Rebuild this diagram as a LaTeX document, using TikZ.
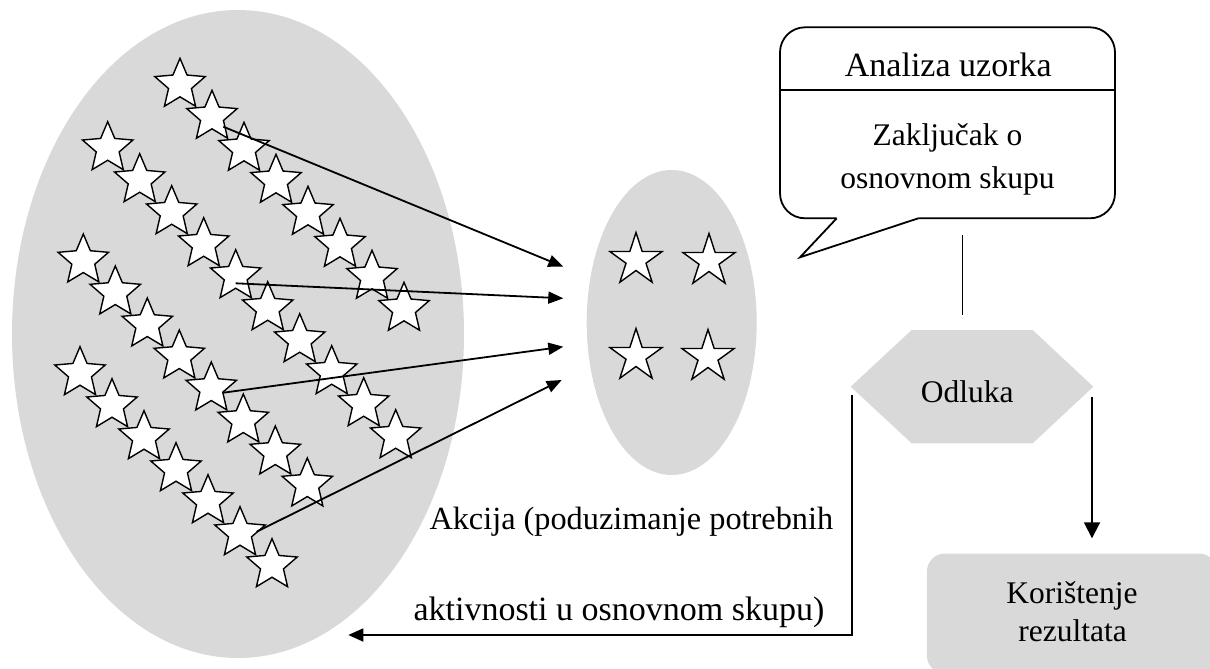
\documentclass[tikz,border=0pt]{standalone}
\usepackage{fontspec}
\setmainfont{Liberation Serif}
\usetikzlibrary{shapes.geometric,arrows.meta}
\definecolor{lg}{RGB}{217,217,217}
\begin{document}
\begin{tikzpicture}[x=1pt,y=-1pt,
  bstar/.style={star, star points=5, star point ratio=2.2, minimum size=53pt, inner sep=0pt, draw=black, fill=white, line width=1.4pt},
  sstar/.style={star, star points=5, star point ratio=2.618, minimum size=55pt, inner sep=0pt, draw=black, fill=white, line width=1.4pt},
  lbl/.style={font=\fontsize{31.5}{38}\selectfont, inner sep=0pt, anchor=base},
  conn/.style={line width=1.8pt},
  arr/.style={conn, -{Triangle[length=15pt,width=12pt]}},
  grayarea/.style={fill=lg, draw=none, inner sep=0pt}
]
\useasboundingbox (0,0) rectangle (1210,669);

% population ellipse
\node[grayarea, ellipse, minimum width=452pt, minimum height=648pt] (pop) at (238,334) {};
% sample ellipse
\node[grayarea, ellipse, minimum width=170pt, minimum height=305pt] (sample) at (671.7,322.5) {};

% stars in population
\foreach \i in {0,...,7} \node[bstar] (a\i) at ({180+32*\i},{84.8+32*\i}) {};
\foreach \i in {0,...,9} \node[bstar] (b\i) at ({107.7+32*\i},{148.2+32*\i}) {};
\foreach \i in {0,...,7} \node[bstar] (c\i) at ({83.3+32*\i},{260.5+32*\i}) {};
\foreach \i in {0,...,6} \node[bstar] (d\i) at ({80+32*\i},{373.2+32*\i}) {};

% stars in sample
\node[sstar] (s1) at (636,260) {};
\node[sstar] (s2) at (709,261) {};
\node[sstar] (s3) at (636,356) {};
\node[sstar] (s4) at (708,357) {};

% sampling arrows
\coordinate (f1) at (223.3,126.7);
\coordinate (f2) at (235.7,283.3);
\coordinate (f3) at (223.3,392.7);
\coordinate (f4) at (256.7,531.7);
\coordinate (t1) at (563.3,266.7);
\coordinate (t2) at (563.3,298.3);
\coordinate (t3) at (563.3,346.7);
\coordinate (t4) at (561.7,380);
\draw[arr] (f1) -- (t1);
\draw[arr] (f2) -- (t2);
\draw[arr] (f3) -- (t3);
\draw[arr] (f4) -- (t4);

% callout
\draw[conn, fill=white, rounded corners=25pt] (780,27.3) rectangle (1115,218.3);
\fill[white] (836.7,216.4) -- (918.3,216.4) -- (918.3,218.3) -- (800,257.3) -- (836.7,218.3) -- cycle;
\draw[conn, line join=miter] (836.7,218.3) -- (800,257.3) -- (918.3,218.3);
\draw[conn] (780,90) -- (1115,90);
\node[lbl, font=\fontsize{34}{40}\selectfont] (analiza) at (948.3,77) {Analiza uzorka};
\node[lbl] (zak1) at (947.5,145) {Zaključak o};
\node[lbl] (zak2) at (947.5,188.3) {osnovnom skupu};

% link to decision
\coordinate (v1) at (962.5,235);
\coordinate (v2) at (962.5,315);
\draw[line width=1.3pt] (v1) -- (v2);

% decision hexagon
\fill[lg] (850.7,386.7) -- (911.7,330) -- (1032.7,330) -- (1093.3,386.7) -- (1032.7,443.3) -- (911.7,443.3) -- cycle;
\node[lbl] (odluka) at (967.3,402.7) {Odluka};

% results box
\node[grayarea, rectangle, rounded corners=18pt, minimum width=290pt, minimum height=120pt, anchor=north west] (koris) at (926.7,553.3) {};
\node[lbl] (kor1) at (1072,603.3) {Korištenje};
\node[lbl] (kor2) at (1072.5,641.7) {rezultata};

% decision outputs
\coordinate (hr) at (1092,396.7);
\coordinate (hrt) at (1092,538.3);
\draw[conn, -{Triangle[length=16pt,width=16pt]}] (hr) -- (hrt);
\coordinate (hl) at (851.7,395);
\coordinate (hlc) at (851.7,635);
\coordinate (ret) at (348.3,635);
\draw[conn, -{Triangle[length=15pt,width=13pt]}] (hl) -- (hlc) -- (ret);

% action text
\node[lbl, anchor=base west, font=\fontsize{32.3}{38}\selectfont] (akc1) at (429.3,529) {Akcija (poduzimanje potrebnih};
\node[lbl, anchor=base west, font=\fontsize{34}{40}\selectfont] (akc2) at (413.3,620) {aktivnosti u osnovnom skupu)};
\end{tikzpicture}
\end{document}
